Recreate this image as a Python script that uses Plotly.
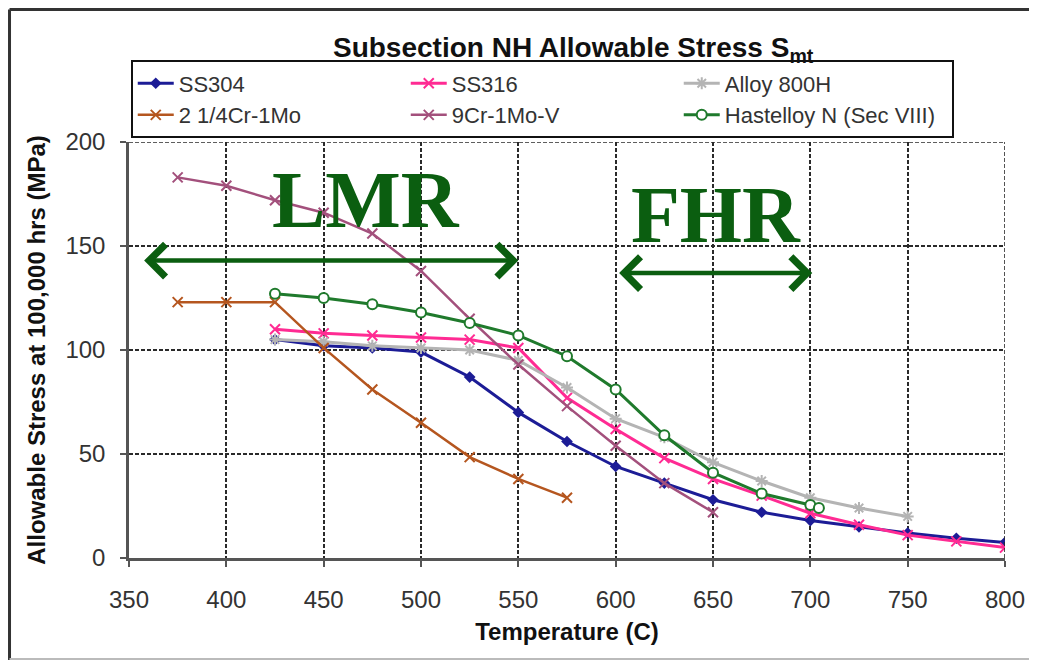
import plotly.graph_objects as go

# temperatures (C) and allowable stresses (MPa)
t_ss304 = [425, 450, 475, 500, 525, 550, 575, 600, 625, 650, 675, 700, 725, 750, 775, 800]
s_ss304 = [105, 102, 101, 99, 87, 70, 56, 44, 36, 28, 22, 18, 15, 12, 9.5, 7.5]

t_ss316 = [425, 450, 475, 500, 525, 550, 575, 600, 625, 650, 675, 700, 725, 750, 775, 800]
s_ss316 = [110, 108, 107, 106, 105, 101, 77, 62, 48, 38, 30, 21.5, 16, 11, 8, 5]

t_800h = [425, 450, 475, 500, 525, 550, 575, 600, 625, 650, 675, 700, 725, 750]
s_800h = [105, 104, 102, 101, 100, 95, 82, 67, 58, 46, 37, 29, 24, 20]

t_cr2 = [375, 400, 425, 450, 475, 500, 525, 550, 575]
s_cr2 = [123, 123, 123, 101, 81, 65, 48.5, 38, 29]

t_cr9 = [375, 400, 425, 450, 475, 500, 525, 550, 575, 600, 625, 650]
s_cr9 = [183, 179, 172, 166, 156, 138, 115, 93, 73, 54, 36, 22]

t_hast = [425, 450, 475, 500, 525, 550, 575, 600, 625, 650, 675, 700, 704.4]
s_hast = [127, 125, 122, 118, 113, 107, 97, 81, 59, 41, 31, 25.5, 24]

# temperature regimes marked on the chart
lmr_span = [357, 550]
lmr_level = 143
fhr_span = [601, 701]
fhr_level = 137

fig = go.Figure()

fig.add_trace(go.Scatter(x=t_ss304, y=s_ss304, name="SS304", mode="lines+markers",
                         line=dict(color="#1c1c96", width=3),
                         marker=dict(symbol="diamond", size=9, color="#1c1c96")))
fig.add_trace(go.Scatter(x=t_ss316, y=s_ss316, name="SS316", mode="lines+markers",
                         line=dict(color="#ff2b93", width=3),
                         marker=dict(symbol="x-thin-open", size=10, color="#ff2b93",
                                     line=dict(width=2, color="#ff2b93"))))
fig.add_trace(go.Scatter(x=t_800h, y=s_800h, name="Alloy 800H", mode="lines+markers",
                         line=dict(color="#b4b4b4", width=3),
                         marker=dict(symbol="asterisk-open", size=10, color="#b4b4b4",
                                     line=dict(width=2, color="#b4b4b4"))))
fig.add_trace(go.Scatter(x=t_cr2, y=s_cr2, name="2 1/4Cr-1Mo", mode="lines+markers",
                         line=dict(color="#b5561f", width=2.5),
                         marker=dict(symbol="x-thin-open", size=10, color="#b5561f",
                                     line=dict(width=2, color="#b5561f"))))
fig.add_trace(go.Scatter(x=t_cr9, y=s_cr9, name="9Cr-1Mo-V", mode="lines+markers",
                         line=dict(color="#a3507c", width=2.5),
                         marker=dict(symbol="x-thin-open", size=10, color="#a3507c",
                                     line=dict(width=2, color="#a3507c"))))
fig.add_trace(go.Scatter(x=t_hast, y=s_hast, name="Hastelloy N (Sec VIII)", mode="lines+markers",
                         line=dict(color="#1f7a2c", width=3),
                         marker=dict(symbol="circle", size=10, color="white",
                                     line=dict(width=2, color="#1f7a2c"))))

green = "#0b5e10"
# double-headed regime arrows
for span, level in [(lmr_span, lmr_level), (fhr_span, fhr_level)]:
    fig.add_annotation(x=span[1], y=level, ax=span[0], ay=level, axref="x", ayref="y",
                       xref="x", yref="y", text="", showarrow=True,
                       arrowside="end+start", arrowhead=4, arrowsize=1.4,
                       arrowwidth=4.5, arrowcolor=green)
fig.add_annotation(x=472, y=172, xref="x", yref="y", text="<b>LMR</b>", showarrow=False,
                   font=dict(family="Liberation Serif", size=80, color=green))
fig.add_annotation(x=651.5, y=165, xref="x", yref="y", text="<b>FHR</b>", showarrow=False,
                   font=dict(family="Liberation Serif", size=80, color=green))

grid = dict(showgrid=True, gridcolor="#2a2a2a", griddash="4px,2px", gridwidth=1.6,
            showline=True, linecolor="#555555", linewidth=2.5,
            ticks="outside", ticklen=6, tickcolor="#555555", tickwidth=1.5,
            tickfont=dict(family="Liberation Sans", size=24, color="#333333"),
            zeroline=False)

fig.update_xaxes(range=[350, 800], dtick=50, ticklabelstandoff=12,
                 title=dict(text="<b>Temperature (C)</b>", standoff=12,
                            font=dict(family="Liberation Sans", size=24, color="#111111")),
                 **grid)
fig.update_yaxes(range=[0, 200], dtick=50, ticklabelstandoff=10,
                 title=dict(text="<b>Allowable Stress at 100,000 hrs (MPa)</b>", standoff=14,
                            font=dict(family="Liberation Sans", size=24, color="#111111")),
                 **grid)

# dashed border lines on top and right like the gridlines
fig.add_shape(type="line", xref="x", yref="y", x0=350, x1=800, y0=200, y1=200,
              line=dict(color="#2a2a2a", width=1.6, dash="4px,2px"))
fig.add_shape(type="line", xref="x", yref="y", x0=800, x1=800, y0=0, y1=200,
              line=dict(color="#2a2a2a", width=1.6, dash="4px,2px"))

# outer frame
fig.add_shape(type="line", xref="paper", yref="paper", x0=-0.1364, x1=1.1, y0=1.3185, y1=1.3185,
              line=dict(color="#333333", width=3))
fig.add_shape(type="line", xref="paper", yref="paper", x0=-0.1364, x1=-0.1364, y0=-0.245, y1=1.3185,
              line=dict(color="#333333", width=3))
fig.add_shape(type="line", xref="paper", yref="paper", x0=-0.1364, x1=1.1, y0=-0.2428, y1=-0.2428,
              line=dict(color="#bbbbbb", width=2))

fig.update_layout(
    width=1037, height=661,
    margin=dict(l=121, r=40, t=134, b=111),
    paper_bgcolor="white", plot_bgcolor="white",
    title=dict(text="<b>Subsection NH Allowable Stress S<sub>mt</sub></b>", x=0.545, xanchor="center",
               y=0.941, yanchor="middle",
               font=dict(family="Liberation Sans", size=28, color="#111111")),
    legend=dict(orientation="h", x=0.002, y=1.196, xanchor="left", yanchor="top",
                entrywidth=222, bordercolor="#111111", borderwidth=2, bgcolor="white",
                font=dict(family="Liberation Sans", size=22, color="#333333"),
                tracegroupgap=0, itemwidth=36),
    showlegend=True,
)

fig.write_html("out.html")
